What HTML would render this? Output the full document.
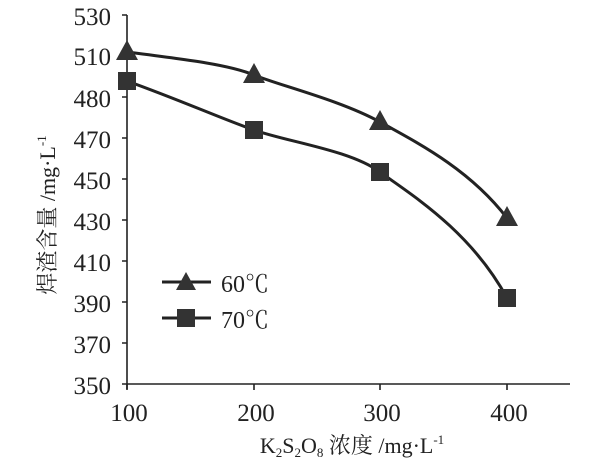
<!DOCTYPE html><html><head><style>body{margin:0;background:#fff}svg{display:block}text{font-family:"Liberation Serif","Noto Serif CJK SC",serif;fill:#222}</style></head><body>
<svg width="601" height="461" viewBox="0 0 601 461">
<g stroke="#222" stroke-width="1.6" fill="none">
<line x1="127" y1="15" x2="127" y2="389"/>
<line x1="122" y1="384" x2="570" y2="384"/>
<path d="M122 15h5M122 55h5M122 97h5M122 138h5M122 179h5M122 220h5M122 261h5M122 302h5M122 343h5M127 384v6M254 384v6M380 384v6M507 384v6"/>
<path stroke-width="3" d="M127 52 C190 60 230 65 254 75 S340 100 380 122 S470 170 507 218"/>
<path stroke-width="3" d="M127 81 C180 100 220 118 254 130 S350 150 380 172 S470 230 507 298"/>
<line stroke-width="3" x1="162" y1="282" x2="211" y2="282"/>
<line stroke-width="3" x1="162" y1="318" x2="211" y2="318"/>
</g>
<g fill="#333">
<polygon points="127,40 116,60 138,60"/><polygon points="254,63 243,83 265,83"/><polygon points="380,110 369,130 391,130"/><polygon points="507,206 496,226 518,226"/><polygon points="186,272 176,290 196,290"/>
<rect x="118" y="72" width="18" height="18"/><rect x="245" y="121" width="18" height="18"/><rect x="371" y="163" width="18" height="18"/><rect x="498" y="289" width="18" height="18"/><rect x="177" y="309" width="18" height="18"/>
</g>
<g font-size="25" text-anchor="end">
<text x="111" y="25">530</text><text x="111" y="65">510</text><text x="111" y="107">480</text><text x="111" y="148">470</text><text x="111" y="189">450</text><text x="111" y="230">430</text><text x="111" y="271">410</text><text x="111" y="312">390</text><text x="111" y="353">370</text><text x="111" y="394">350</text>
</g>
<g font-size="25" text-anchor="middle">
<text x="129" y="421">100</text><text x="256" y="421">200</text><text x="382" y="421">300</text><text x="509" y="421">400</text>
</g>
<text x="221" y="292" font-size="24">60℃</text>
<text x="221" y="328" font-size="24">70℃</text>
<text transform="translate(55,215) rotate(-90)" text-anchor="middle" font-size="22">焊渣含量 /mg·L<tspan font-size="13" dy="-9">-1</tspan></text>
<text x="352" y="453" text-anchor="middle" font-size="22">K<tspan font-size="13" dy="4">2</tspan><tspan dy="-4">S</tspan><tspan font-size="13" dy="4">2</tspan><tspan dy="-4">O</tspan><tspan font-size="13" dy="4">8</tspan><tspan dy="-4"> 浓度 /mg·L</tspan><tspan font-size="13" dy="-9">-1</tspan></text>
</svg></body></html>
